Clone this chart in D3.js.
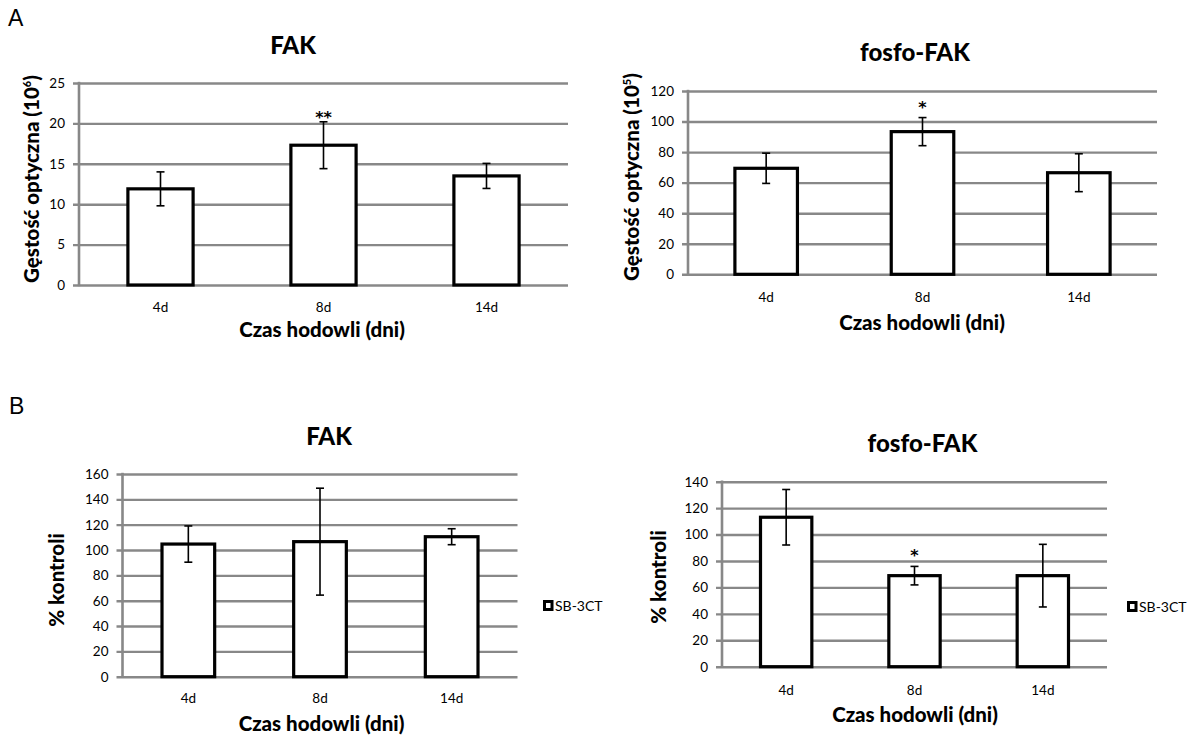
<!DOCTYPE html>
<html>
<head>
<meta charset="utf-8">
<script src="https://cdn.jsdelivr.net/npm/d3@7"></script>
<style>
  html, body { margin: 0; padding: 0; background: #ffffff; }
  svg { display: block; }
  text { font-family: Lato, "Open Sans", sans-serif; fill: #000; }
</style>
</head>
<body>
<svg id="fig" width="1195" height="735"></svg>
<script>
// Culture time points
const categories = ["4d", "8d", "14d"];

// Panel A: optical density of FAK (x10^6) and phospho-FAK (x10^5)
const fakDensity = [11.9, 17.3, 13.5];
const fakDensityErr = [2.1, 2.9, 1.55];
const fakDensityStars = ["", "**", ""];
const fakDensityTicks = [0, 5, 10, 15, 20, 25];

const pfakDensity = [69.4, 93.4, 66.5];
const pfakDensityErr = [9.9, 9.2, 12.4];
const pfakDensityStars = ["", "*", ""];
const pfakDensityTicks = [0, 20, 40, 60, 80, 100, 120];

// Panel B: SB-3CT treated cultures as % of control
const fakControl = [104.7, 106.6, 110.5];
const fakControlErr = [14.3, 42.2, 6.3];
const fakControlStars = ["", "", ""];
const fakControlTicks = [0, 20, 40, 60, 80, 100, 120, 140, 160];

const pfakControl = [113.1, 68.9, 68.9];
const pfakControlErr = [21, 7, 23.7];
const pfakControlStars = ["", "*", ""];
const pfakControlTicks = [0, 20, 40, 60, 80, 100, 120, 140];

const seriesName = "SB-3CT";
const xTitle = "Czas hodowli (dni)";

const svg = d3.select("#fig");
const GRID = "#888888";

// Panel letters
svg.append("text").attr("x", 8).attr("y", 26)
  .style("font-family", "'Liberation Sans', Arial, sans-serif").style("font-size", "23px").text("A");
svg.append("text").attr("x", 9).attr("y", 414)
  .style("font-family", "'Liberation Sans', Arial, sans-serif").style("font-size", "23px").text("B");

function drawPanel(p) {
  const g = svg.append("g");
  const x = d3.scaleBand().domain(categories).range([p.x0, p.x1])
    .paddingInner(0.6).paddingOuter(0.3);
  const y = d3.scaleLinear().domain([0, d3.max(p.ticks)]).range([p.yb, p.yt]);

  // horizontal gridlines, extending left of the axis as tick marks
  const yAxis = g.append("g").attr("transform", `translate(${p.x0 - 6},0)`)
    .call(d3.axisLeft(y).tickValues(p.ticks).tickSize(-(p.x1 - p.x0 + 6)).tickPadding(8));
  yAxis.select(".domain").remove();
  yAxis.selectAll(".tick line").attr("stroke", GRID).attr("stroke-width", 2.4);
  yAxis.selectAll(".tick text").style("font-size", "13.5px").style("font-family", "Lato, sans-serif");

  // vertical axis line
  g.append("line").attr("x1", p.x0).attr("x2", p.x0)
    .attr("y1", y(d3.max(p.ticks)) - 1.2).attr("y2", y(0) + 1.2)
    .attr("stroke", GRID).attr("stroke-width", 2.6);

  // category labels
  const xAxis = g.append("g").attr("transform", `translate(0,${p.tickY})`)
    .call(d3.axisBottom(x).tickSize(0).tickPadding(0));
  xAxis.select(".domain").remove();
  xAxis.selectAll(".tick text").attr("dy", 0).attr("y", 0)
    .style("font-size", "13.5px").style("font-family", "Lato, sans-serif");

  const rows = categories.map((c, i) => ({ c, v: p.values[i], e: p.errs[i], s: p.stars[i] }));

  // bars
  g.selectAll("rect.bar").data(rows).join("rect").attr("class", "bar")
    .attr("x", d => x(d.c)).attr("width", x.bandwidth())
    .attr("y", d => y(d.v)).attr("height", d => y(0) - y(d.v))
    .attr("fill", "#fff").attr("stroke", "#000").attr("stroke-width", 3.2);

  // error bars
  const cx = d => x(d.c) + x.bandwidth() / 2;
  const eb = g.selectAll("g.err").data(rows).join("g").attr("class", "err")
    .attr("stroke", "#000").attr("stroke-width", 1.6);
  eb.append("line").attr("x1", cx).attr("x2", cx)
    .attr("y1", d => y(d.v + d.e)).attr("y2", d => y(d.v - d.e));
  eb.append("line").attr("x1", d => cx(d) - 4).attr("x2", d => cx(d) + 4)
    .attr("y1", d => y(d.v + d.e)).attr("y2", d => y(d.v + d.e));
  eb.append("line").attr("x1", d => cx(d) - 4).attr("x2", d => cx(d) + 4)
    .attr("y1", d => y(d.v - d.e)).attr("y2", d => y(d.v - d.e));

  // significance marks
  g.selectAll("text.star").data(rows.filter(d => d.s)).join("text").attr("class", "star")
    .attr("x", cx).attr("y", d => y(d.v + d.e) + p.starDy)
    .attr("text-anchor", "middle")
    .style("font-family", "'DejaVu Sans', sans-serif").style("font-size", "16px").style("font-weight", 700)
    .text(d => d.s);

  // chart title
  g.append("text").attr("x", p.titleX).attr("y", p.titleY).attr("text-anchor", "middle")
    .style("font-size", "24px").style("font-weight", 900).text(p.title);

  // y title
  const yt = g.append("text")
    .attr("transform", `translate(${p.yTitleX},${p.yTitleY}) rotate(-90)`)
    .attr("text-anchor", "middle").style("font-size", "20.5px").style("font-weight", 900);
  yt.append("tspan").text(p.yTitle);
  if (p.yTitleSup) {
    yt.append("tspan").attr("dy", -8).style("font-size", "11px").text(p.yTitleSup);
    yt.append("tspan").attr("dy", 8).text(")");
  }

  // x title
  g.append("text").attr("x", p.xTitleX).attr("y", p.xTitleY).attr("text-anchor", "middle")
    .style("font-size", "20.5px").style("font-weight", 900).text(xTitle);

  // legend
  if (p.legend) {
    const lg = g.append("g").attr("transform", `translate(${p.legend[0]},${p.legend[1]})`);
    lg.append("rect").attr("x", 1.5).attr("y", -9.5).attr("width", 7.5).attr("height", 8)
      .attr("fill", "#fff").attr("stroke", "#000").attr("stroke-width", 3);
    lg.append("text").attr("x", 12).attr("y", 0).style("font-size", "14px").text(seriesName);
  }
}

drawPanel({
  title: "FAK", yTitle: "Gęstość optyczna (10", yTitleSup: "6",
  values: fakDensity, errs: fakDensityErr, stars: fakDensityStars, ticks: fakDensityTicks,
  x0: 79, x1: 568, yb: 285, yt: 83,
  titleX: 293, titleY: 54, yTitleX: 39, yTitleY: 179,
  tickY: 312, xTitleX: 322, xTitleY: 337, starDy: 1
});

drawPanel({
  title: "fosfo-FAK", yTitle: "Gęstość optyczna (10", yTitleSup: "5",
  values: pfakDensity, errs: pfakDensityErr, stars: pfakDensityStars, ticks: pfakDensityTicks,
  x0: 688, x1: 1157, yb: 274.3, yt: 91,
  titleX: 915, titleY: 61, yTitleX: 639, yTitleY: 177,
  tickY: 302, xTitleX: 922, xTitleY: 330, starDy: -5
});

drawPanel({
  title: "FAK", yTitle: "% kontroli",
  values: fakControl, errs: fakControlErr, stars: fakControlStars, ticks: fakControlTicks,
  x0: 122.5, x1: 517.5, yb: 676.7, yt: 474,
  titleX: 329, titleY: 445, yTitleX: 64, yTitleY: 580,
  tickY: 703, xTitleX: 321.5, xTitleY: 731, starDy: -5,
  legend: [543, 611]
});

drawPanel({
  title: "fosfo-FAK", yTitle: "% kontroli",
  values: pfakControl, errs: pfakControlErr, stars: pfakControlStars, ticks: pfakControlTicks,
  x0: 722, x1: 1107, yb: 666.7, yt: 481.7,
  titleX: 922.5, titleY: 452, yTitleX: 666, yTitleY: 577,
  tickY: 695, xTitleX: 915, xTitleY: 722, starDy: -5,
  legend: [1127, 612]
});
</script>
</body>
</html>
